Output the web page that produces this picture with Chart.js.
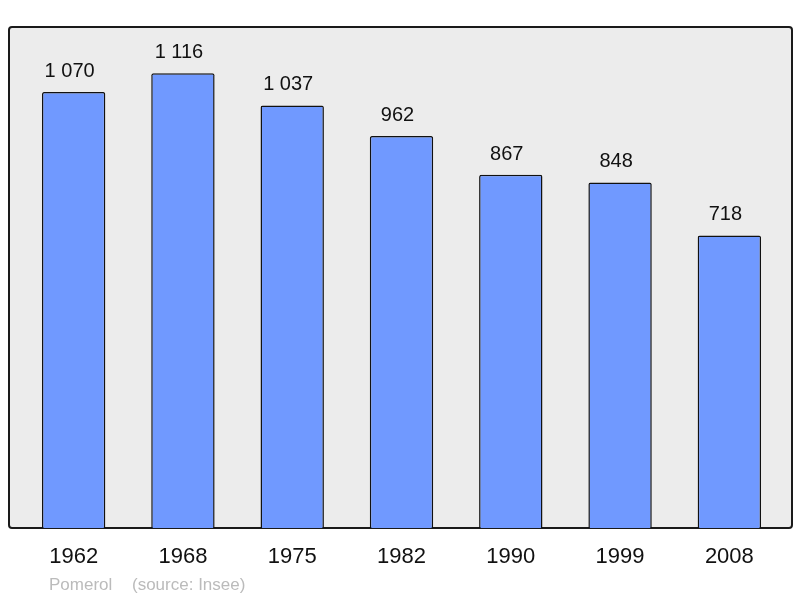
<!DOCTYPE html>
<html>
<head>
<meta charset="utf-8">
<script src="https://cdn.jsdelivr.net/npm/chart.js@4"></script>
<style>
  html, body { margin: 0; padding: 0; background: #ffffff; }
  #wrap { width: 800px; height: 598px; position: relative; }
</style>
</head>
<body>
<div id="wrap"><canvas id="chart"></canvas></div>
<script>
// données
const annees = ['1962', '1968', '1975', '1982', '1990', '1999', '2008'];
const population = [1070, 1116, 1037, 962, 867, 848, 718];
const commune = 'Pomerol';
const source = '(source: Insee)';

function formatNombre(v) {
    return String(v).replace(/\B(?=(\d{3})+(?!\d))/g, ' ');
}

// fond gris + étiquettes dessinées à la main
const decorPlugin = {
    id: 'decor',
    beforeDraw(chart) {
        const ctx = chart.ctx;
        ctx.save();
        ctx.fillStyle = '#ececec';
        ctx.strokeStyle = '#1a1a1a';
        ctx.lineWidth = 2;
        ctx.beginPath();
        ctx.roundRect(9, 27, 783, 501, 3);
        ctx.fill();
        ctx.stroke();
        ctx.restore();
    },
    afterDraw(chart) {
        const ctx = chart.ctx;
        const x = chart.scales.x;
        const meta = chart.getDatasetMeta(0);
        ctx.save();
        ctx.fillStyle = '#111';
        ctx.textAlign = 'center';
        ctx.font = '20px "Liberation Sans", Arial, sans-serif';
        ctx.textBaseline = 'alphabetic';
        meta.data.forEach((bar, i) => {
            ctx.fillText(formatNombre(population[i]), bar.x - 4, bar.y - 15);
        });
        ctx.font = '22px "Liberation Sans", Arial, sans-serif';
        ctx.textBaseline = 'middle';
        annees.forEach((a, i) => {
            ctx.fillText(a, x.getPixelForValue(i), 557);
        });
        ctx.font = '17px "Liberation Sans", Arial, sans-serif';
        ctx.fillStyle = '#bbbbbb';
        ctx.textAlign = 'left';
        ctx.fillText(commune, 49, 585);
        ctx.fillText(source, 132, 585);
        ctx.restore();
    }
};

new Chart(document.getElementById('chart'), {
    type: 'bar',
    data: {
        labels: annees,
        datasets: [{
            data: population,
            backgroundColor: '#7099ff',
            borderColor: '#111',
            borderWidth: 1.5,
            borderSkipped: 'bottom',
            borderRadius: 2,
            barPercentage: 0.58,
            categoryPercentage: 1.0
        }]
    },
    options: {
        responsive: true,
        maintainAspectRatio: false,
        animation: false,
        layout: {
            padding: { left: 19, right: 16, top: 39, bottom: 70 }
        },
        plugins: {
            legend: { display: false },
            tooltip: { enabled: false }
        },
        scales: {
            x: { display: false },
            y: { display: false, min: 0, max: 1200 }
        }
    },
    plugins: [decorPlugin]
});
</script>
</body>
</html>
